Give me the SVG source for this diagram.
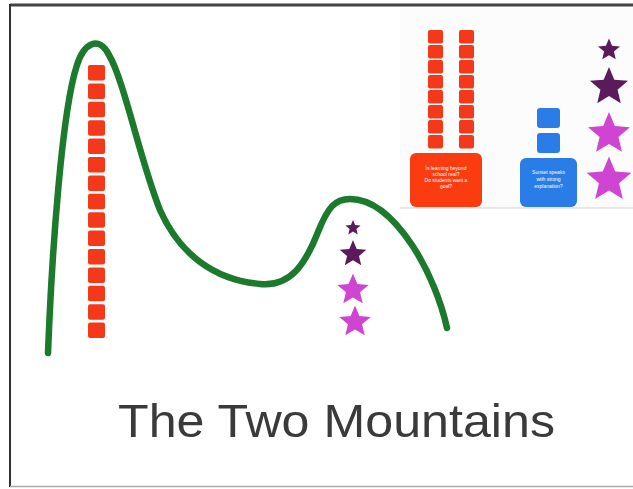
<svg xmlns="http://www.w3.org/2000/svg" width="633" height="489" viewBox="0 0 633 489">
<style>
.sq{fill:#f4391a}
.bsq{fill:#2a7de6}
.dk{fill:#5b1a5c}
.mg{fill:#cf45d2}
.bt{font-family:"Liberation Sans",Arial,sans-serif;font-size:5px;fill:#ffffff;text-anchor:middle}
</style>
<defs>
<path id="star" d="M0,-10 L2.65,-3.64 L9.51,-3.09 L4.28,1.39 L5.88,8.09 L0,4.5 L-5.88,8.09 L-4.28,1.39 L-9.51,-3.09 L-2.65,-3.64 Z"/>
<g id="col15">
<rect class="sq" x="0" y="0" width="17" height="15.5" rx="2"/>
<rect class="sq" x="0" y="18.4" width="17" height="15.5" rx="2"/>
<rect class="sq" x="0" y="36.8" width="17" height="15.5" rx="2"/>
<rect class="sq" x="0" y="55.2" width="17" height="15.5" rx="2"/>
<rect class="sq" x="0" y="73.6" width="17" height="15.5" rx="2"/>
<rect class="sq" x="0" y="92" width="17" height="15.5" rx="2"/>
<rect class="sq" x="0" y="110.4" width="17" height="15.5" rx="2"/>
<rect class="sq" x="0" y="128.8" width="17" height="15.5" rx="2"/>
<rect class="sq" x="0" y="147.2" width="17" height="15.5" rx="2"/>
<rect class="sq" x="0" y="165.6" width="17" height="15.5" rx="2"/>
<rect class="sq" x="0" y="184" width="17" height="15.5" rx="2"/>
<rect class="sq" x="0" y="202.4" width="17" height="15.5" rx="2"/>
<rect class="sq" x="0" y="220.8" width="17" height="15.5" rx="2"/>
<rect class="sq" x="0" y="239.2" width="17" height="15.5" rx="2"/>
<rect class="sq" x="0" y="257.6" width="17" height="15.5" rx="2"/>
</g>
<g id="col8">
<rect class="sq" x="0" y="0" width="15" height="13.5" rx="2"/>
<rect class="sq" x="0" y="15" width="15" height="13.5" rx="2"/>
<rect class="sq" x="0" y="30" width="15" height="13.5" rx="2"/>
<rect class="sq" x="0" y="45" width="15" height="13.5" rx="2"/>
<rect class="sq" x="0" y="60" width="15" height="13.5" rx="2"/>
<rect class="sq" x="0" y="75" width="15" height="13.5" rx="2"/>
<rect class="sq" x="0" y="90" width="15" height="13.5" rx="2"/>
<rect class="sq" x="0" y="105" width="15" height="13.5" rx="2"/>
</g>
</defs>
<rect width="633" height="489" fill="#ffffff"/>
<g id="frame">
<rect x="400" y="8" width="233" height="200" fill="#fcfcfc"/>
<line x1="400" y1="208" x2="633" y2="208" stroke="#e0e0e0" stroke-width="1.5"/>
<line x1="10" y1="5" x2="633" y2="5" stroke="#444444" stroke-width="3"/>
<line x1="10" y1="4" x2="10" y2="487" stroke="#333333" stroke-width="2"/>
<line x1="10" y1="486.5" x2="633" y2="486.5" stroke="#aaaaaa" stroke-width="1.5"/>
</g>
<g id="connectors">
<path d="M48,353 C52,250 62,110 77,65 C84,43 99,35 109,55 C124,80 140,160 160,210 C180,255 215,280 260,284 C290,287 305,265 318,232 C328,207 335,199 350,199 C372,199 392,215 412,245 C430,272 442,305 447,328" fill="none" stroke="#1c7a2c" stroke-width="6.5" stroke-linecap="round"/>
</g>
<g id="left-column">
<use href="#col15" x="88" y="65"/>
</g>
<g id="mid-stars">
<use href="#star" class="dk" transform="translate(353,228) scale(0.8)"/>
<use href="#star" class="dk" transform="translate(353,254) scale(1.4)"/>
<use href="#star" class="mg" transform="translate(353,290) scale(1.65)"/>
<use href="#star" class="mg" transform="translate(355,322) scale(1.65)"/>
</g>
<g id="red-node">
<use href="#col8" x="428" y="30"/>
<use href="#col8" x="459" y="30"/>
<rect x="410" y="153" width="72" height="54" rx="6" fill="#fb3b10"/>
<text class="bt" x="446" y="170">Is learning beyond</text>
<text class="bt" x="446" y="176">school real?</text>
<text class="bt" x="446" y="182">Do students want a</text>
<text class="bt" x="446" y="188">goal?</text>
</g>
<g id="blue-node">
<rect class="bsq" x="537" y="108" width="23" height="20" rx="3"/>
<rect class="bsq" x="537" y="133" width="23" height="20" rx="3"/>
<rect x="520" y="158" width="57" height="49" rx="6" fill="#2a7de6"/>
<text class="bt" x="548.5" y="174">Sunset speaks</text>
<text class="bt" x="548.5" y="181">with strong</text>
<text class="bt" x="548.5" y="188">explanation?</text>
</g>
<g id="right-stars">
<use href="#star" class="dk" transform="translate(609,50) scale(1.15)"/>
<use href="#star" class="dk" transform="translate(609,87) scale(2)"/>
<use href="#star" class="mg" transform="translate(609,134) scale(2.2)"/>
<use href="#star" class="mg" transform="translate(609,180) scale(2.35)"/>
</g>
<g id="title">
<text x="118" y="437" font-family="Liberation Sans, Arial, sans-serif" font-size="47" fill="#3a3a3a" textLength="437" lengthAdjust="spacingAndGlyphs">The Two Mountains</text>
</g>
</svg>
